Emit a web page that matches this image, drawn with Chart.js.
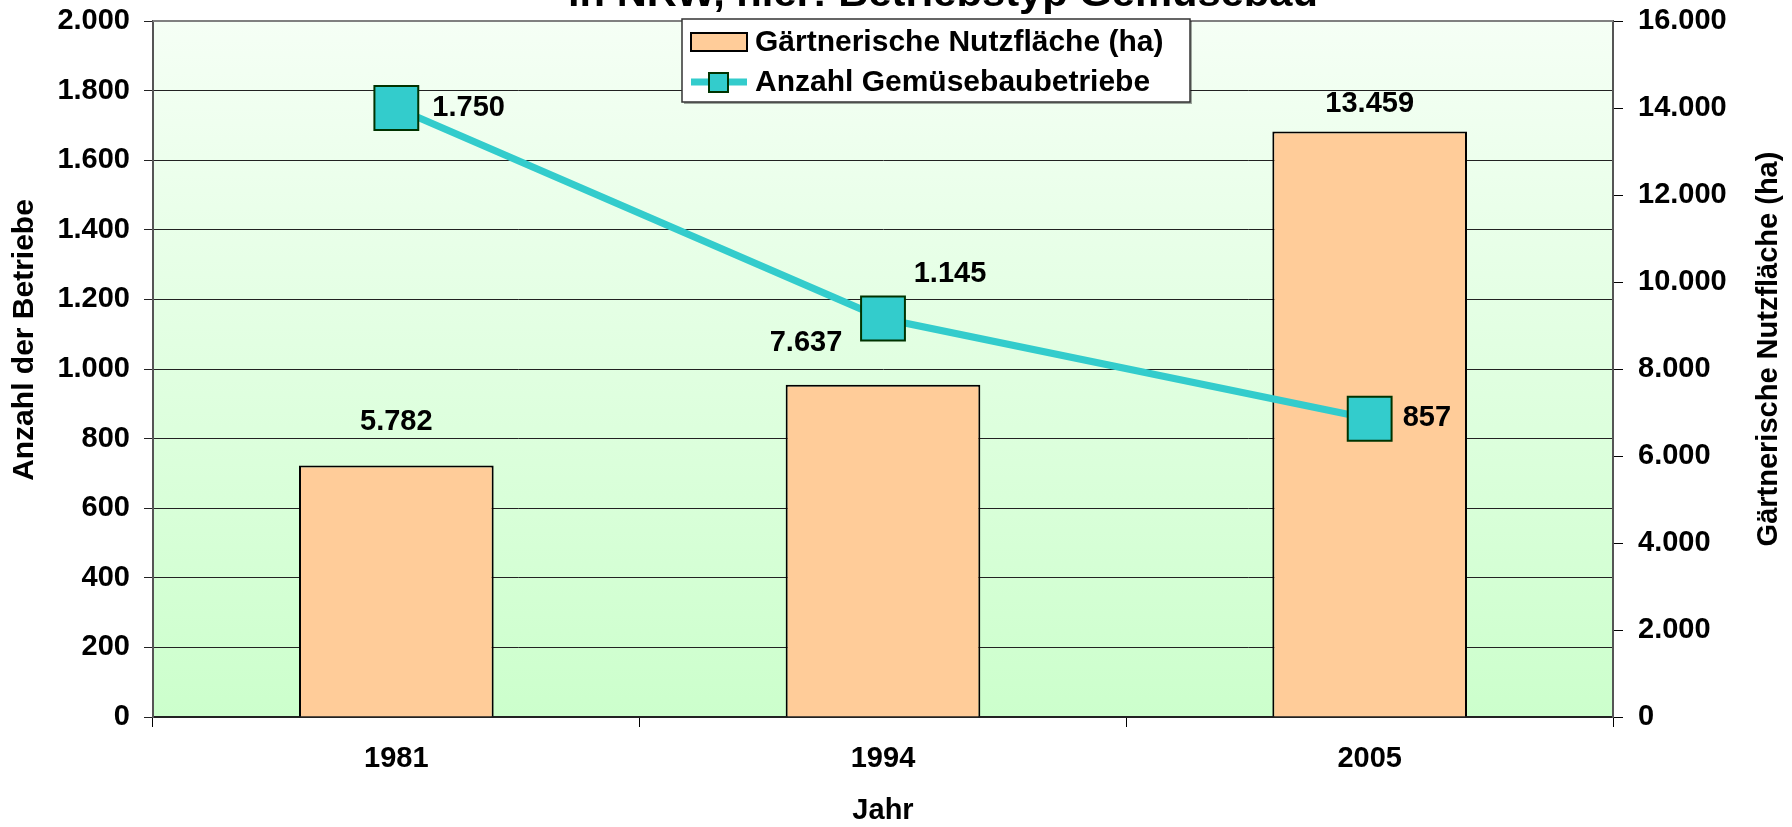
<!DOCTYPE html>
<html>
<head>
<meta charset="utf-8">
<script src="https://cdn.jsdelivr.net/npm/chart.js@4.4.1/dist/chart.umd.min.js"></script>
<style>
  html, body { margin: 0; padding: 0; background: #ffffff; overflow: hidden; }
  canvas { display: block; }
</style>
</head>
<body>
<canvas id="c" width="1792" height="827"></canvas>
<script>
// ---- data ----
const years = ['1981', '1994', '2005'];
const nutzflaeche = [5782, 7637, 13459];      // ha, right axis
const betriebe = [1750, 1145, 857];            // count, left axis
const leftTicksMax = 2000;
const rightTicksMax = 16000;
const titleText = 'in NRW, hier: Betriebstyp Gemüsebau';
const seriesLabels = ['Gärtnerische Nutzfläche (ha)', 'Anzahl Gemüsebaubetriebe'];
const axisTitles = { x: 'Jahr', y: 'Anzahl der Betriebe', y1: 'Gärtnerische Nutzfläche (ha)' };

const FONT = '"Liberation Sans", Arial, Helvetica, sans-serif';
function fmt(v) {
  return String(Math.round(v)).replace(/\B(?=(\d{3})+(?!\d))/g, '.');
}

const decorPlugin = {
  id: 'decor',
  beforeDraw(chart) {
    const { ctx, chartArea: a } = chart;
    ctx.save();
    const g = ctx.createLinearGradient(0, a.top, 0, a.bottom);
    g.addColorStop(0, '#F5FFF5');
    g.addColorStop(1, '#CCFFCC');
    ctx.fillStyle = g;
    ctx.fillRect(a.left, a.top, a.right - a.left, a.bottom - a.top);
    ctx.restore();
  },
  afterDatasetsDraw(chart) {
    const { ctx, chartArea: a } = chart;
    ctx.save();
    // top border
    ctx.strokeStyle = '#808080';
    ctx.lineWidth = 2;
    ctx.beginPath();
    ctx.moveTo(a.left, a.top);
    ctx.lineTo(a.right, a.top);
    ctx.stroke();

    // data labels
    ctx.fillStyle = '#000';
    ctx.font = 'bold 29px ' + FONT;
    ctx.textBaseline = 'middle';
    const barMeta = chart.getDatasetMeta(0);
    const lineMeta = chart.getDatasetMeta(1);
    const barOff = [[0, -43, 'center'], [-77, -42, 'center'], [0, -28, 'center']];
    barMeta.data.forEach((el, i) => {
      const o = barOff[i];
      ctx.textAlign = o[2];
      ctx.fillText(fmt(chart.data.datasets[0].data[i]), el.x + o[0], el.y + o[1]);
    });
    const lineOff = [[36, 0, 'left'], [67, -45, 'center'], [33, -1, 'left']];
    lineMeta.data.forEach((el, i) => {
      const o = lineOff[i];
      ctx.textAlign = o[2];
      ctx.fillText(fmt(chart.data.datasets[1].data[i]), el.x + o[0], el.y + o[1]);
    });
    ctx.restore();
  },
  afterDraw(chart) {
    const { ctx, chartArea: a } = chart;
    ctx.save();
    // title (its upper part lies above the page)
    ctx.fillStyle = '#000';
    ctx.font = 'bold 38px ' + FONT;
    ctx.textBaseline = 'alphabetic';
    ctx.textAlign = 'left';
    const tw = ctx.measureText(titleText).width;
    ctx.save();
    ctx.translate(568, 6);
    ctx.scale(750 / tw, 1);
    ctx.fillText(titleText, 0, 0);
    ctx.restore();

    // axis titles
    ctx.textAlign = 'center';
    ctx.textBaseline = 'middle';
    ctx.font = 'bold 30px ' + FONT;
    ctx.save();
    ctx.translate(25, 340);
    ctx.rotate(-Math.PI / 2);
    ctx.fillText(axisTitles.y, 0, 0);
    ctx.restore();
    ctx.font = 'bold 29px ' + FONT;
    ctx.save();
    ctx.translate(1769, 349);
    ctx.rotate(-Math.PI / 2);
    ctx.fillText(axisTitles.y1, 0, 0);
    ctx.restore();
    ctx.fillText(axisTitles.x, (a.left + a.right) / 2, 811);

    // legend
    const lx = 682, ly = 19, lw = 508, lh = 83;
    ctx.fillStyle = 'rgba(0,0,0,0.35)';
    ctx.fillRect(lx + 2, ly + 2, lw, lh);
    ctx.fillStyle = '#fff';
    ctx.fillRect(lx, ly, lw, lh);
    ctx.strokeStyle = '#333';
    ctx.lineWidth = 1.5;
    ctx.strokeRect(lx, ly, lw, lh);
    const ds = chart.data.datasets;
    const rows = [ly + 23, ly + 63];
    // bar symbol
    ctx.fillStyle = ds[0].backgroundColor;
    ctx.fillRect(691, rows[0] - 9, 56, 18);
    ctx.strokeStyle = '#000';
    ctx.lineWidth = 2;
    ctx.strokeRect(691, rows[0] - 9, 56, 18);
    // line symbol
    ctx.strokeStyle = ds[1].borderColor;
    ctx.lineWidth = 7;
    ctx.beginPath();
    ctx.moveTo(691, rows[1]);
    ctx.lineTo(747, rows[1]);
    ctx.stroke();
    ctx.fillStyle = ds[1].pointBackgroundColor;
    ctx.fillRect(709, rows[1] - 9, 19, 19);
    ctx.strokeStyle = ds[1].pointBorderColor;
    ctx.lineWidth = 2;
    ctx.strokeRect(709, rows[1] - 9, 19, 19);
    // texts
    ctx.fillStyle = '#000';
    ctx.font = 'bold 30px ' + FONT;
    ctx.textAlign = 'left';
    ctx.textBaseline = 'middle';
    [0, 1].forEach(i => {
      ctx.fillText(ds[i].label, 755, rows[i] + 1);
    });
    ctx.restore();
  }
};

function noPad(s) { s.paddingTop = 0; s.paddingBottom = 0; }

new Chart(document.getElementById('c'), {
  type: 'bar',
  data: {
    labels: years,
    datasets: [
      {
        type: 'bar',
        label: seriesLabels[0],
        data: nutzflaeche,
        yAxisID: 'y1',
        backgroundColor: '#FFCC99',
        borderColor: '#000000',
        borderWidth: 2,
        barPercentage: 0.4,
        categoryPercentage: 1.0,
        order: 2
      },
      {
        type: 'line',
        label: seriesLabels[1],
        data: betriebe,
        yAxisID: 'y',
        borderColor: '#33CCCC',
        borderWidth: 7,
        pointStyle: 'rect',
        pointRadius: 31,
        pointHoverRadius: 31,
        pointBackgroundColor: '#33CCCC',
        pointBorderColor: '#003300',
        pointBorderWidth: 2,
        tension: 0,
        clip: false,
        order: 1
      }
    ]
  },
  options: {
    responsive: false,
    animation: false,
    events: [],
    layout: { autoPadding: false, padding: { top: 21, left: 0, right: 0, bottom: 0 } },
    plugins: {
      legend: { display: false },
      title: { display: false },
      tooltip: { enabled: false }
    },
    scales: {
      x: {
        offset: true,
        grid: { offset: true, drawOnChartArea: false, tickLength: 10, color: '#000', lineWidth: 1 },
        border: { display: true, color: '#222', width: 2 },
        ticks: { color: '#000', font: { family: FONT, size: 29, weight: 'bold' }, padding: 15 },
        afterFit(s) { s.height = 110; s.paddingLeft = 0; s.paddingRight = 0; }
      },
      y: {
        position: 'left',
        min: 0,
        max: leftTicksMax,
        ticks: { stepSize: 200, color: '#000', font: { family: FONT, size: 29, weight: 'bold' }, padding: 14, callback: v => fmt(v) },
        grid: { color: '#222', lineWidth: 1, tickLength: 9, drawTicks: true },
        border: { display: true, color: '#555', width: 2 },
        afterFit(s) { s.width = 153; noPad(s); }
      },
      y1: {
        position: 'right',
        min: 0,
        max: rightTicksMax,
        ticks: { stepSize: 2000, color: '#000', font: { family: FONT, size: 29, weight: 'bold' }, padding: 15, callback: v => fmt(v) },
        grid: { drawOnChartArea: false, color: '#000', lineWidth: 1, tickLength: 10 },
        border: { display: true, color: '#555', width: 2 },
        afterFit(s) { s.width = 179; noPad(s); }
      }
    }
  },
  plugins: [decorPlugin]
});
</script>
</body>
</html>
